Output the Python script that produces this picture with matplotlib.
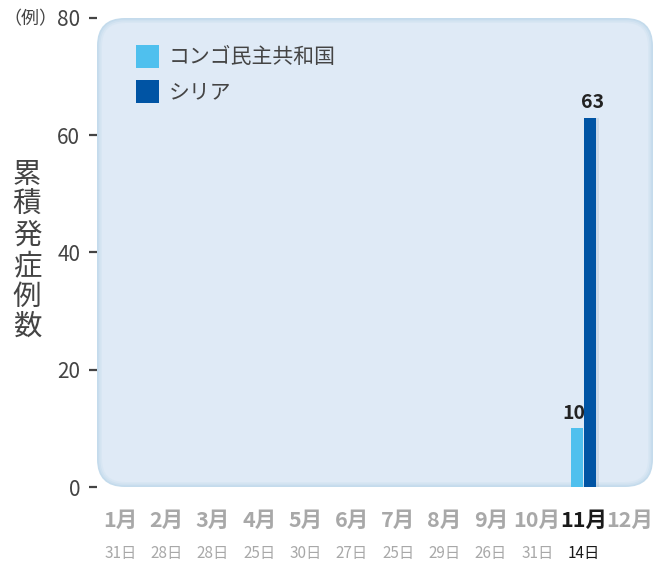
import matplotlib
matplotlib.use("Agg")
import matplotlib.pyplot as plt
from matplotlib.patches import FancyBboxPatch, Rectangle

plt.rcParams['font.family'] = ['Noto Sans CJK JP', 'DejaVu Sans']

months = ["1月", "2月", "3月", "4月", "5月", "6月", "7月", "8月", "9月", "10月", "11月", "12月"]
days = ["31日", "28日", "28日", "25日", "30日", "27日", "25日", "29日", "26日", "31日", "14日", ""]
congo = [0, 0, 0, 0, 0, 0, 0, 0, 0, 0, 10, 0]
syria = [0, 0, 0, 0, 0, 0, 0, 0, 0, 0, 63, 0]
series_names = ["コンゴ民主共和国", "シリア"]
yticks = [0, 20, 40, 60, 80]
current = 10  # index of highlighted month

c_light = "#4fc0ee"
c_dark = "#0054a4"

W, H = 662, 566
fig = plt.figure(figsize=(W / 100, H / 100), dpi=100)
ax = fig.add_axes([97 / W, 1 - 487 / H, (653 - 97) / W, (487 - 18) / H])
ax.set_xlim(0.5, 12.5)
ax.set_ylim(0, 80)
for s in ax.spines.values():
    s.set_visible(False)
ax.set_facecolor("none")

# rounded panel with soft edge
layers = [(0.0, "#c4dbec"), (0.003, "#cfe1f0"), (0.006, "#d8e6f3"), (0.009, "#dfeaf6")]
for k, (inset, col) in enumerate(layers):
    p = FancyBboxPatch((inset, inset * 556 / 469), 1 - 2 * inset, 1 - 2 * inset * 556 / 469,
                       boxstyle="round,pad=0,rounding_size=%f" % (0.05 - inset),
                       transform=ax.transAxes, facecolor=col, edgecolor="none",
                       mutation_aspect=556 / 469, zorder=0.1 * k, clip_on=False)
    ax.add_patch(p)

x = list(range(1, 13))
w = 0.28
xl = [v - w / 2 for v in x]
xr = [v + w / 2 for v in x]
# subtle shadow
ax.bar([v + 0.06 for v in xr], syria, width=w, color="#9fb4c8", alpha=0.3, zorder=1, linewidth=0)
ax.bar(xl, congo, width=w, color=c_light, zorder=2, linewidth=0, label=series_names[0])
ax.bar(xr, syria, width=w, color=c_dark, zorder=2, linewidth=0, label=series_names[1])

for xi, v in zip(xl, congo):
    if v:
        ax.text(xi - 0.06, v + 1.0, str(v), ha="center", va="bottom", fontsize=14,
                fontweight="bold", color="#222222", zorder=3)
for xi, v in zip(xr, syria):
    if v:
        ax.text(xi + 0.05, v + 1.0, str(v), ha="center", va="bottom", fontsize=14,
                fontweight="bold", color="#222222", zorder=3)

ax.set_yticks(yticks)
ax.set_yticklabels([str(t) for t in yticks])
ax.tick_params(axis="y", length=6, width=1.6, pad=6, labelsize=15, colors="#444444", direction="out")
ax.tick_params(axis="x", length=0, labelbottom=False)

# month and day labels
for i, (m, d) in enumerate(zip(months, days)):
    col = "#1a1a1a" if i == current else "#a8a8a8"
    ax.text(x[i], -0.072, m, transform=ax.get_xaxis_transform(), ha="center", va="center",
            fontsize=15.5, fontweight="bold", color=col)
    ax.text(x[i], -0.141, d, transform=ax.get_xaxis_transform(), ha="center", va="center",
            fontsize=11, color=col)

# unit and y label
fig.text(57 / W, 1 - 19 / H, "（例）", ha="right", va="center", fontsize=13, color="#444444")
fig.text(27 / W, 1 - 251 / H, "\n".join("累積発症例数"), ha="center", va="center",
         fontsize=20.5, color="#444444", linespacing=1.02)

# legend
leg_items = [(series_names[0], c_light, 57), (series_names[1], c_dark, 92)]
for name, col, yc in leg_items:
    fig.patches.append(Rectangle((136 / W, 1 - (yc + 11) / H), 23 / W, 23 / H,
                                 transform=fig.transFigure, facecolor=col, edgecolor="none"))
    fig.text(169 / W, 1 - yc / H, name, ha="left", va="center", fontsize=15, color="#444444")

fig.savefig("out.png", dpi=100)
